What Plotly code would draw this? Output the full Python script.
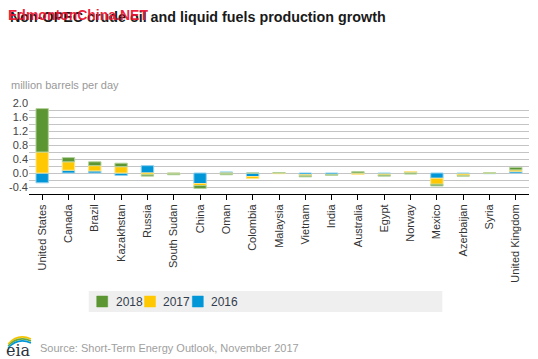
import plotly.graph_objects as go

countries = ["United States", "Canada", "Brazil", "Kazakhstan", "Russia", "South Sudan",
             "China", "Oman", "Colombia", "Malaysia", "Vietnam", "India", "Australia",
             "Egypt", "Norway", "Mexico", "Azerbaijan", "Syria", "United Kingdom"]
v2016 = [-0.28, 0.08, 0.06, -0.07, 0.21, 0.00, -0.30, 0.03, -0.10, 0.00, -0.05, -0.04,
         -0.01, -0.03, 0.02, -0.15, -0.03, -0.02, 0.05]
v2017 = [0.60, 0.24, 0.15, 0.18, -0.05, -0.02, -0.06, -0.02, -0.06, -0.02, -0.03, -0.005,
         -0.03, -0.03, 0.02, -0.17, -0.05, 0.0, 0.04]
v2018 = [1.24, 0.12, 0.11, 0.10, -0.04, -0.03, -0.08, -0.03, 0.0, 0.01, -0.03, -0.02,
         0.04, -0.03, -0.03, -0.05, -0.01, 0.0, 0.07]
ytickvals = [2.0, 1.6, 1.2, 0.8, 0.4, 0.0, -0.4]
yticktext = ["2.0", "1.6", "1.2", "0.8", "0.4", "0.0", "-0.4"]
legend_order = ["2018", "2017", "2016"]

FONT = "Liberation Sans, Arial, sans-serif"
series = [("2016", v2016, "#0096d7", "#8fd0ee"),
          ("2017", v2017, "#ffc800", "#ffe58a"),
          ("2018", v2018, "#5b9632", "#b3d29a")]

fig = go.Figure()
for name, vals, col, edge in series:
    fig.add_trace(go.Bar(x=countries, y=vals, name=name, marker_color=col,
                         marker_line=dict(color=edge, width=1)))

L, R, T, B = 27, 9, 103, 165
W, H = 538, 359
ph = H - T - B
pw = W - L - R


def px(x):
    return (x - L) / pw


def py(y):
    return (T + ph - y) / ph


fig.update_layout(
    width=W, height=H, barmode="relative", bargap=0.53,
    margin=dict(l=L, r=R, t=T, b=B),
    paper_bgcolor="white", plot_bgcolor="white",
    font=dict(family=FONT, size=11, color="#333333"),
    showlegend=False,
    xaxis=dict(showline=True, linecolor="black", linewidth=1, ticks="outside", ticklen=5,
               tickcolor="black", tickangle=-90, showgrid=False,
               tickfont=dict(size=11, color="#333333")),
    yaxis=dict(range=[-0.6, 2.0], tickvals=ytickvals, ticktext=yticktext, showgrid=True,
               gridcolor="#c4c4c4", gridwidth=1, zeroline=False, showline=False,
               ticks="", tickfont=dict(size=11, color="#444444"),
               minor=dict(dtick=0.2, tick0=0, showgrid=True, gridcolor="#c4c4c4", gridwidth=1)),
)

# manual legend
fig.add_shape(type="rect", xref="paper", yref="paper", layer="below",
              x0=px(87), x1=px(442), y0=py(312), y1=py(291),
              fillcolor="#efefef", line=dict(width=0))
colmap = {name: col for name, _, col, _ in series}
for i, name in enumerate(legend_order):
    x0 = 95 + i * 48
    fig.add_shape(type="rect", xref="paper", yref="paper",
                  x0=px(x0), x1=px(x0 + 11), y0=py(307), y1=py(296),
                  fillcolor=colmap[name], line=dict(color=colmap[name], width=0.5))
    fig.add_annotation(text=name, xref="paper", yref="paper", x=px(x0 + 17), y=py(302),
                       xanchor="left", yanchor="middle", showarrow=False,
                       font=dict(size=12, color="#333d4d", family=FONT))

fig.add_annotation(text="<b>Non-OPEC crude oil and liquid fuels production growth</b>",
                   xref="paper", yref="paper", x=px(6), y=py(17),
                   xanchor="left", yanchor="middle", showarrow=False,
                   font=dict(size=14.3, color="#1a1a1a", family=FONT))
fig.add_annotation(text="<b>EdmontonChina.NET</b>",
                   xref="paper", yref="paper", x=px(4), y=py(15),
                   xanchor="left", yanchor="middle", showarrow=False,
                   font=dict(size=14, color="rgba(235,20,50,0.95)", family=FONT))
fig.add_annotation(text="million barrels per day",
                   xref="paper", yref="paper", x=px(7), y=py(85),
                   xanchor="left", yanchor="middle", showarrow=False,
                   font=dict(size=11, color="#999999", family=FONT))
fig.add_annotation(text="Source: Short-Term Energy Outlook, November 2017",
                   xref="paper", yref="paper", x=px(36), y=py(348),
                   xanchor="left", yanchor="middle", showarrow=False,
                   font=dict(size=11, color="#a0a0a0", family=FONT))
# eia logo
fig.add_annotation(text="eia", xref="paper", yref="paper", x=px(2), y=py(350),
                   xanchor="left", yanchor="middle", showarrow=False,
                   font=dict(size=16, color="#2a3340", family="DejaVu Serif, serif"))
for col, dy in [("#f5c400", 0), ("#6aa83a", 2), ("#0096d7", 4)]:
    fig.add_shape(type="path", xref="paper", yref="paper",
                  path=f"M {px(6)},{py(344 + dy)} Q {px(16)},{py(333 + dy)} {px(29)},{py(339 + dy)}",
                  line=dict(color=col, width=1.5))

fig.write_html("out.html", config={"displayModeBar": False},
               post_script="document.body.style.margin='0px';")
